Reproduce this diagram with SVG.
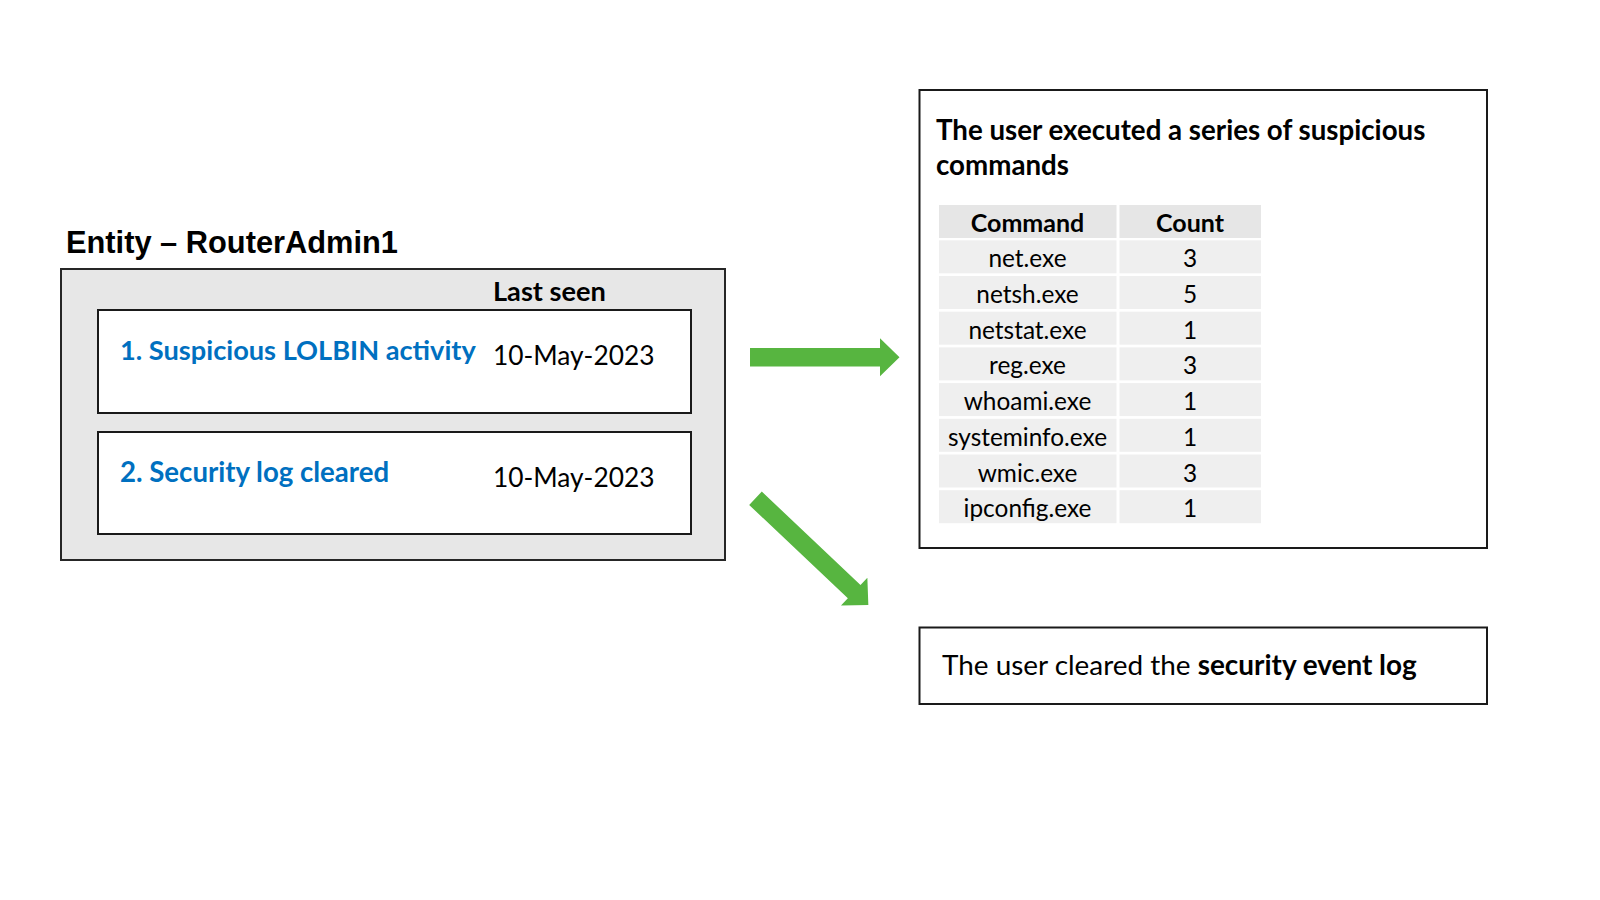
<svg xmlns="http://www.w3.org/2000/svg" width="1600" height="900" viewBox="0 0 1600 900">
  <style>
    .box { fill: #ffffff; stroke: #1a1a1a; stroke-width: 2; }
    .outer { fill: #e7e7e7; stroke: #262626; stroke-width: 2; }
    .cal { font-family: Lato, "Open Sans", sans-serif; fill: #000000; }
    .b { font-weight: bold; }
    .blue { fill: #0070c0; }
    .hdr { fill: #e6e6e6; }
    .row { fill: #efefef; }
    .arrow { fill: #57b540; }
    .tc { text-anchor: middle; font-size: 24.4px; }
    .th { font-size: 25px; }
  </style>
  <defs>
    <path id="arr" d="M0,-9.2 L130,-9.2 L130,-19 L149.5,0 L130,19 L130,9.2 L0,9.2 Z"/>
    <path id="arr2" d="M0,-9.2 L135.8,-9.2 L135.8,-19.2 L155.3,0 L135.8,19.2 L135.8,9.2 L0,9.2 Z"/>
  </defs>

  <g id="entity">
    <text x="66" y="253" font-family="'Liberation Sans', Arial, sans-serif" font-weight="bold" font-size="30.8" fill="#000">Entity – RouterAdmin1</text>
    <rect class="outer" x="61" y="269" width="664" height="291"/>
    <text class="cal b" x="493" y="301" font-size="27.2">Last seen</text>
  </g>

  <g id="alert1">
    <rect class="box" x="98" y="310" width="593" height="103"/>
    <text class="cal b blue" x="120" y="360" font-size="27.2">1. Suspicious LOLBIN activity</text>
    <text class="cal" x="493" y="365" font-size="26.3">10-May-2023</text>
  </g>

  <g id="alert2">
    <rect class="box" x="98" y="432" width="593" height="102"/>
    <text class="cal b blue" x="120" y="482" font-size="27.6">2. Security log cleared</text>
    <text class="cal" x="493" y="487" font-size="26.3">10-May-2023</text>
  </g>

  <g id="connectors">
    <use href="#arr" class="arrow" transform="translate(750,357.3)"/>
    <use href="#arr2" class="arrow" transform="translate(755.5,498.3) rotate(43.4)"/>
  </g>

  <g id="commands">
    <rect class="box" x="919.5" y="90" width="567.5" height="458"/>
    <text class="cal b" x="936" y="140" font-size="27.7">The user executed a series of suspicious</text>
    <text class="cal b" x="936" y="175" font-size="27.7">commands</text>
    <g id="table">
      <rect class="hdr" x="939" y="205" width="177.5" height="33"/>
      <rect class="hdr" x="1119.5" y="205" width="141.5" height="33"/>
      <rect class="row" x="939" y="240.3" width="177.5" height="33"/>
      <rect class="row" x="1119.5" y="240.3" width="141.5" height="33"/>
      <rect class="row" x="939" y="276" width="177.5" height="33"/>
      <rect class="row" x="1119.5" y="276" width="141.5" height="33"/>
      <rect class="row" x="939" y="311.7" width="177.5" height="33"/>
      <rect class="row" x="1119.5" y="311.7" width="141.5" height="33"/>
      <rect class="row" x="939" y="347.4" width="177.5" height="33"/>
      <rect class="row" x="1119.5" y="347.4" width="141.5" height="33"/>
      <rect class="row" x="939" y="383.1" width="177.5" height="33"/>
      <rect class="row" x="1119.5" y="383.1" width="141.5" height="33"/>
      <rect class="row" x="939" y="418.8" width="177.5" height="33"/>
      <rect class="row" x="1119.5" y="418.8" width="141.5" height="33"/>
      <rect class="row" x="939" y="454.5" width="177.5" height="33"/>
      <rect class="row" x="1119.5" y="454.5" width="141.5" height="33"/>
      <rect class="row" x="939" y="490.2" width="177.5" height="33"/>
      <rect class="row" x="1119.5" y="490.2" width="141.5" height="33"/>

      <text class="cal b tc th" x="1027.5" y="231.7">Command</text>
      <text class="cal b tc th" x="1190" y="231.7">Count</text>

      <text class="cal tc" x="1027.5" y="267.3">net.exe</text>
      <text class="cal tc" x="1190" y="267.3">3</text>
      <text class="cal tc" x="1027.5" y="303">netsh.exe</text>
      <text class="cal tc" x="1190" y="303">5</text>
      <text class="cal tc" x="1027.5" y="338.7">netstat.exe</text>
      <text class="cal tc" x="1190" y="338.7">1</text>
      <text class="cal tc" x="1027.5" y="374.4">reg.exe</text>
      <text class="cal tc" x="1190" y="374.4">3</text>
      <text class="cal tc" x="1027.5" y="410.1">whoami.exe</text>
      <text class="cal tc" x="1190" y="410.1">1</text>
      <text class="cal tc" x="1027.5" y="445.8">systeminfo.exe</text>
      <text class="cal tc" x="1190" y="445.8">1</text>
      <text class="cal tc" x="1027.5" y="481.5">wmic.exe</text>
      <text class="cal tc" x="1190" y="481.5">3</text>
      <text class="cal tc" x="1027.5" y="517.2">ipconfig.exe</text>
      <text class="cal tc" x="1190" y="517.2">1</text>
    </g>
  </g>

  <g id="logcleared">
    <rect class="box" x="919.5" y="627.5" width="567.5" height="76.5"/>
    <text class="cal" x="942" y="675" font-size="27.9">The user cleared the <tspan class="b">security event log</tspan></text>
  </g>
</svg>
